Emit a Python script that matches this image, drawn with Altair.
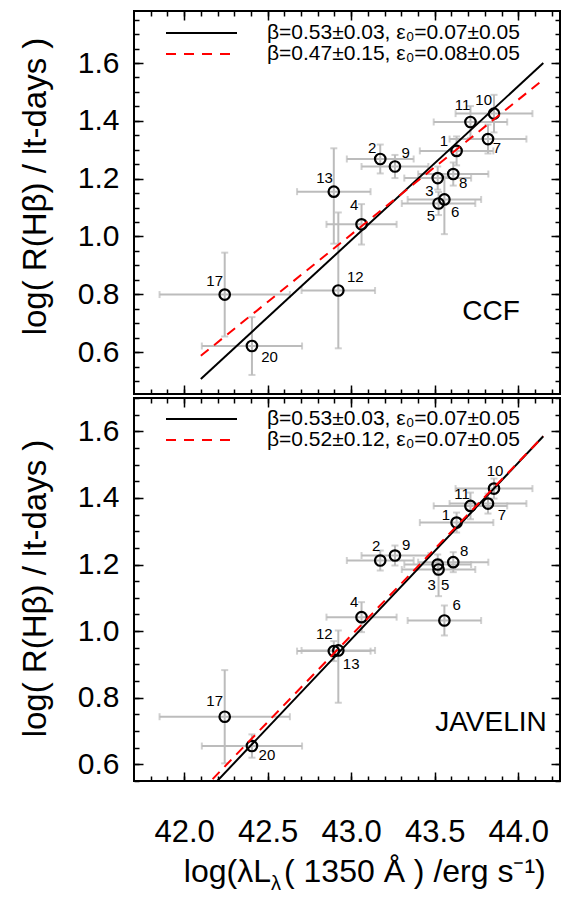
import altair as alt
import pandas as pd
import numpy as np

FONT = "Liberation Sans"
GRAY = "#bcbcbc"
W, H = 426, 383
LEFT = 126  # space reserved left of each plot for tick labels and axis title

# ---------------- data ----------------
agn_id = ["1", "2", "3", "4", "5", "6", "7", "8", "9", "10", "11", "12", "13", "17", "20"]
log_L1350 = [43.631, 43.174, 43.518, 43.062, 43.523, 43.558, 43.819, 43.611,
             43.262, 43.855, 43.714, 42.923, 42.896, 42.243, 42.406]
log_L1350_err = [0.22, 0.20, 0.20, 0.21, 0.22, 0.22, 0.23, 0.21,
                 0.20, 0.23, 0.22, 0.22, 0.22, 0.39, 0.30]

ccf_logR = [1.296, 1.268, 1.202, 1.042, 1.114, 1.128, 1.337, 1.216,
            1.242, 1.425, 1.396, 0.813, 1.155, 0.799, 0.621]
ccf_err_lo = [0.05, 0.05, 0.04, 0.07, 0.04, 0.12, 0.05, 0.04,
              0.04, 0.065, 0.055, 0.20, 0.18, 0.145, 0.10]
ccf_err_hi = [0.05, 0.05, 0.04, 0.07, 0.04, 0.08, 0.05, 0.04,
              0.04, 0.065, 0.055, 0.27, 0.15, 0.145, 0.10]

jav_logR = [1.326, 1.212, 1.200, 1.042, 1.185, 1.032, 1.383, 1.207,
            1.227, 1.428, 1.376, 0.942, 0.940, 0.743, 0.655]
jav_err_lo = [0.03, 0.03, 0.03, 0.045, 0.08, 0.045, 0.03, 0.03,
              0.03, 0.03, 0.04, 0.157, 0.03, 0.14, 0.035]
jav_err_hi = [0.03, 0.03, 0.03, 0.045, 0.03, 0.045, 0.03, 0.03,
              0.03, 0.03, 0.04, 0.06, 0.03, 0.14, 0.035]

# label offsets (pixels) for the object numbers
ccf_lab_dx = [-12.7, -8, -8.3, -7.3, -7.7, 10.7, 9, 10, 10.7, -10.3, -8, 17, -9.3, -10, 17.6]
ccf_lab_dy = [-10, -10.7, 13.3, -19.3, 12.7, 12.3, 9.3, 9, -13.3, -13.3, -16.7, -13.4, -13.7, -13.4, 10.6]
jav_lab_dx = [-10.6, -4, -6, -7.3, 6.7, 12.3, 14, 11, 11.3, 1, -8.4, -14, 17.4, -10, 15]
jav_lab_dy = [-7.6, -14.4, 20, -15, 15, -15.6, 11.7, -11.6, -11, -18, -12.3, -16.6, 13, -15.3, 9.3]

fit_x = [42.1, 44.15]
ccf_fit_all = [0.507, 1.600]
ccf_fit_sub = [0.587, 1.543]
jav_fit_all = [0.498, 1.585]
jav_fit_sub = [0.519, 1.585]

ccf_legend = ["β=0.53±0.03, ε₀=0.07±0.05", "β=0.47±0.15, ε₀=0.08±0.05"]
jav_legend = ["β=0.53±0.03, ε₀=0.07±0.05", "β=0.52±0.12, ε₀=0.07±0.05"]

XDOM = [41.7, 44.25]
CCF_YDOM = [0.455, 1.78]
JAV_YDOM = [0.55, 1.70]
x_major = [42.0, 42.5, 43.0, 43.5, 44.0]
x_minor = [round(v, 2) for v in np.arange(41.8, 44.25, 0.1)]
y_major = [0.6, 0.8, 1.0, 1.2, 1.4, 1.6]
y_minor_all = [round(v, 2) for v in np.arange(0.45, 1.80, 0.05)]

Y_TITLE = "log( R(Hβ) / lt-days )"


def ax(**kw):
    d = dict(grid=False, domain=False, title=None, tickColor="black",
             tickWidth=1.5, labels=False)
    d.update(kw)
    return alt.Axis(**d)


def panel(logR, elo, ehi, ldx, ldy, fit_all, fit_sub, legend, method, method_xy,
          ydom, leg_y, title_y, bottom):
    xs = alt.Scale(domain=XDOM, nice=False, zero=False)
    ys = alt.Scale(domain=ydom, nice=False, zero=False)
    y_minor = [v for v in y_minor_all if ydom[0] <= v <= ydom[1]]

    df = pd.DataFrame({"id": agn_id, "x": log_L1350, "xerr": log_L1350_err,
                       "y": logR, "elo": elo, "ehi": ehi, "ldx": ldx, "ldy": ldy})
    df["xlo"] = df.x - df.xerr
    df["xhi"] = df.x + df.xerr
    df["ylo"] = df.y - df.elo
    df["yhi"] = df.y + df.ehi
    capx = pd.DataFrame({"x": list(df.xlo) + list(df.xhi), "y": list(df.y) * 2})
    capy = pd.DataFrame({"x": list(df.x) * 2, "y": list(df.ylo) + list(df.yhi)})
    fa = pd.DataFrame({"x": fit_x, "y": fit_all})
    fs = pd.DataFrame({"x": fit_x, "y": fit_sub})

    def X(f, axis=None):
        return alt.X(f, type="quantitative", scale=xs, axis=axis)

    def Y(f, axis=None):
        return alt.Y(f, type="quantitative", scale=ys, axis=axis)

    base = alt.Chart(df)
    one = alt.Chart(pd.DataFrame({"a": [0]}))
    layers = [
        # invisible anchor fixing the left margin of the panel
        one.mark_rule(opacity=0, strokeWidth=1)
        .encode(x=alt.value(-LEFT + 1), x2=alt.value(-LEFT + 1), y=alt.value(2), y2=alt.value(4)),
        base.mark_rule(color=GRAY, strokeWidth=2).encode(x=X("xlo"), x2="xhi", y=Y("y")),
        alt.Chart(capx).mark_tick(orient="vertical", size=7, thickness=2, color=GRAY)
        .encode(x=X("x"), y=Y("y")),
        base.mark_rule(color=GRAY, strokeWidth=2).encode(x=X("x"), y=Y("ylo"), y2="yhi"),
        alt.Chart(capy).mark_tick(orient="horizontal", size=7, thickness=2, color=GRAY)
        .encode(x=X("x"), y=Y("y")),
        base.mark_point(shape="circle", filled=False, size=110, strokeWidth=2.2,
                        color="black", opacity=1).encode(x=X("x"), y=Y("y")),
        alt.Chart(fa).mark_line(color="black", strokeWidth=2, clip=True)
        .encode(x=X("x"), y=Y("y")),
        alt.Chart(fs).mark_line(color="#ff0000", strokeWidth=2, strokeDash=[10, 7], clip=True)
        .encode(x=X("x"), y=Y("y")),
        base.mark_text(font=FONT, fontSize=15, color="black", align="center",
                       baseline="middle",
                       dx=alt.ExprRef(expr="datum.ldx"), dy=alt.ExprRef(expr="datum.ldy"))
        .encode(x=X("x"), y=Y("y"), text="id:N"),
        # legend
        one.mark_rule(color="black", strokeWidth=2)
        .encode(x=alt.value(32), x2=alt.value(103), y=alt.value(leg_y[0])),
        one.mark_rule(color="#ff0000", strokeWidth=2, strokeDash=[10, 8])
        .encode(x=alt.value(32), x2=alt.value(103), y=alt.value(leg_y[1])),
        one.mark_text(font=FONT, fontSize=21, align="left", baseline="middle", color="black")
        .encode(x=alt.value(133), y=alt.value(leg_y[0]), text=alt.value(legend[0])),
        one.mark_text(font=FONT, fontSize=21, align="left", baseline="middle", color="black")
        .encode(x=alt.value(133), y=alt.value(leg_y[1]), text=alt.value(legend[1])),
        one.mark_text(font=FONT, fontSize=28, align="center", baseline="middle", color="black")
        .encode(x=alt.value(method_xy[0]), y=alt.value(method_xy[1]), text=alt.value(method)),
    ]

    carrier = base.mark_point(opacity=0)
    ylab = alt.Axis(orient="left", values=y_major, format=".1f", ticks=False, tickSize=0,
                    domain=False, grid=False, labels=True, labelFontSize=30,
                    labelFont=FONT, labelColor="black", labelPadding=15,
                    labelOverlap=False, title=Y_TITLE, titleFontSize=33, titleFont=FONT,
                    titleFontWeight="normal", titleColor="black", titleX=-99,
                    titleY=title_y, titleAngle=270, titleAlign="center",
                    titleBaseline="middle")
    xlab = None
    if bottom:
        xlab = alt.Axis(orient="bottom", values=x_major, format=".1f", ticks=False,
                        tickSize=0, domain=False, grid=False, labels=True,
                        labelFontSize=31, labelFont=FONT, labelColor="black",
                        labelPadding=36, labelFlush=False, labelOverlap=False, title=None)
    axis_pairs = [
        (ax(orient="top", offset=-H, values=x_major, tickSize=9),
         ax(orient="right", offset=-W, values=y_major, tickSize=9)),
        (ax(orient="top", offset=-H, values=x_minor, tickSize=5),
         ax(orient="right", offset=-W, values=y_minor, tickSize=5)),
        (ax(orient="bottom", offset=-H, values=x_major, tickSize=9),
         ax(orient="left", offset=-W, values=y_major, tickSize=9)),
        (ax(orient="bottom", offset=-H, values=x_minor, tickSize=5),
         ax(orient="left", offset=-W, values=y_minor, tickSize=5)),
        (xlab, ylab),
    ]
    for xa, ya in axis_pairs:
        layers.append(carrier.encode(x=X("x", xa), y=Y("y", ya)))

    if bottom:
        layers += [
            one.mark_text(font=FONT, fontSize=32, align="right", baseline="alphabetic",
                          color="black")
            .encode(x=alt.value(137), y=alt.value(H + 101), text=alt.value("log(λL")),
            one.mark_text(font=FONT, fontSize=20, align="left", baseline="alphabetic",
                          color="black")
            .encode(x=alt.value(137), y=alt.value(H + 109), text=alt.value("λ")),
            one.mark_text(font=FONT, fontSize=32, align="left", baseline="alphabetic",
                          color="black")
            .encode(x=alt.value(150), y=alt.value(H + 101),
                    text=alt.value("( 1350 Å ) /erg s⁻¹)")),
        ]

    return alt.layer(*layers).resolve_axis(x="independent", y="independent").properties(
        width=W, height=H)


top = panel(ccf_logR, ccf_err_lo, ccf_err_hi, ccf_lab_dx, ccf_lab_dy, ccf_fit_all,
            ccf_fit_sub, ccf_legend, "CCF", (357, 301), CCF_YDOM, (22, 43), 175, False)
bot = panel(jav_logR, jav_err_lo, jav_err_hi, jav_lab_dx, jav_lab_dy, jav_fit_all,
            jav_fit_sub, jav_legend, "JAVELIN", (357, 325), JAV_YDOM, (21, 42), 190, True)

chart = alt.vconcat(top, bot, spacing=0).properties(
    padding={"left": 0, "top": 1, "right": 1, "bottom": 0}
).configure(font=FONT).configure_view(stroke="black", strokeWidth=2)

chart.save("out.html", embed_options={"renderer": "svg", "actions": False})
